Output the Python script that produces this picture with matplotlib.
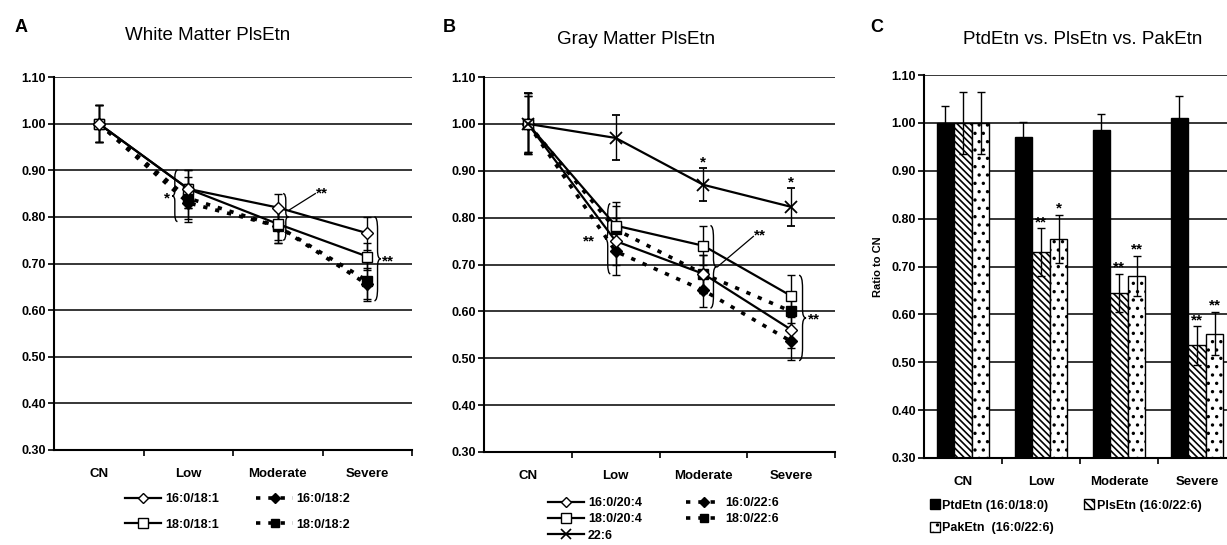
import numpy as np
import matplotlib
matplotlib.use("Agg")
import matplotlib.pyplot as plt
from matplotlib.path import Path
from matplotlib.patches import PathPatch, Patch
from matplotlib.lines import Line2D

plt.rcParams['font.family'] = ['Liberation Sans', 'DejaVu Sans']
plt.rcParams['hatch.linewidth'] = 1.2

categories = ["CN", "Low", "Moderate", "Severe"]
yticks = [0.30, 0.40, 0.50, 0.60, 0.70, 0.80, 0.90, 1.00, 1.10]

# Panel A: White Matter PlsEtn
a_labels = ["16:0/18:1", "18:0/18:1", "16:0/18:2", "18:0/18:2"]
a_16_181 = [1.00, 0.86, 0.82, 0.765]
a_18_181 = [1.00, 0.86, 0.785, 0.715]
a_16_182 = [1.00, 0.83, 0.78, 0.655]
a_18_182 = [1.00, 0.84, 0.78, 0.663]
a_16_181_err = [0.04, 0.04, 0.03, 0.035]
a_18_181_err = [0.04, 0.04, 0.035, 0.03]
a_16_182_err = [0.04, 0.04, 0.035, 0.035]
a_18_182_err = [0.04, 0.045, 0.035, 0.04]

# Panel B: Gray Matter PlsEtn
b_labels = ["16:0/20:4", "18:0/20:4", "22:6", "16:0/22:6", "18:0/22:6"]
b_16_204 = [1.00, 0.75, 0.68, 0.561]
b_18_204 = [1.00, 0.783, 0.74, 0.633]
b_226 = [1.00, 0.97, 0.87, 0.823]
b_16_226 = [1.00, 0.728, 0.645, 0.536]
b_18_226 = [1.00, 0.775, 0.68, 0.60]
b_16_204_err = [0.06, 0.05, 0.04, 0.04]
b_18_204_err = [0.065, 0.05, 0.042, 0.045]
b_226_err = [0.065, 0.048, 0.035, 0.04]
b_16_226_err = [0.065, 0.05, 0.035, 0.04]
b_18_226_err = [0.06, 0.05, 0.04, 0.04]

# Panel C: PtdEtn vs PlsEtn vs PakEtn
c_labels = ["PtdEtn (16:0/18:0)", "PlsEtn (16:0/22:6)", "PakEtn  (16:0/22:6)"]
c_ptd = [1.00, 0.97, 0.985, 1.01]
c_pls = [1.00, 0.73, 0.645, 0.535]
c_pak = [1.00, 0.758, 0.68, 0.56]
c_ptd_err = [0.035, 0.032, 0.033, 0.047]
c_pls_err = [0.065, 0.05, 0.04, 0.04]
c_pak_err = [0.065, 0.05, 0.042, 0.045]
c_pls_sig = ["", "**", "**", "**"]
c_pak_sig = ["", "*", "**", "**"]

W, H = 1227, 545
fig = plt.figure(figsize=(W / 100, H / 100), dpi=100)

TICKFS = 9
STARFS = 11


def px_axes(l, t, r, b):
    return fig.add_axes([l / W, 1 - b / H, (r - l) / W, (b - t) / H])


def style_axes(ax):
    ax.set_xlim(-0.5, 3.5)
    ax.set_ylim(0.30, 1.10)
    ax.set_yticks(yticks)
    ax.set_yticklabels([f"{v:.2f}" for v in yticks], fontweight='bold', fontsize=TICKFS)
    for v in yticks[1:]:
        ax.axhline(v, color='black', lw=1.1, zorder=0)
    ax.set_xticks(range(4))
    ax.set_xticklabels(categories, fontweight='bold', fontsize=9.5)
    ax.tick_params(axis='x', which='major', length=0, pad=13)
    ax.set_xticks([0.5, 1.5, 2.5, 3.5], minor=True)
    ax.tick_params(axis='x', which='minor', length=4, width=1.2, direction='out')
    ax.tick_params(axis='y', length=4, width=1.2, direction='out', pad=2)
    for s in ['top', 'right']:
        ax.spines[s].set_visible(False)
    for s in ['left', 'bottom']:
        ax.spines[s].set_linewidth(1.5)


def brace(ax, x, y0, y1, w, right=True):
    s = 1 if right else -1
    h = y1 - y0
    ym = (y0 + y1) / 2
    xm = x + s * w / 2
    verts = [(x, y1), (xm, y1), (xm, y1 - 0.15 * h),
             (xm, ym + 0.1 * h),
             (xm, ym), (x + s * w, ym),
             (xm, ym), (xm, ym - 0.1 * h),
             (xm, y0 + 0.15 * h),
             (xm, y0), (x, y0)]
    codes = [Path.MOVETO, Path.CURVE3, Path.CURVE3, Path.LINETO,
             Path.CURVE3, Path.CURVE3, Path.CURVE3, Path.CURVE3,
             Path.LINETO, Path.CURVE3, Path.CURVE3]
    ax.add_patch(PathPatch(Path(verts, codes), fill=False, lw=1.0, color='black', zorder=6))


def star(ax, xx, yy, s, ha='center'):
    ax.text(xx, yy, s, ha=ha, va='center', fontsize=STARFS, fontweight='bold')


x = np.arange(4)
solid = dict(color='black', lw=1.6, linestyle='-')
dashed = dict(color='black', lw=2.6, linestyle=(0, (1.2, 2.2)))
ebk = dict(ecolor='black', elinewidth=1.0, capsize=3, capthick=1.0)

# ---------------- Panel A ----------------
axA = px_axes(54, 77, 412, 450)
style_axes(axA)
axA.errorbar(x, a_16_182, yerr=a_16_182_err, marker='D', ms=6, mfc='black', mec='black', zorder=3, **dashed, **ebk)
axA.errorbar(x, a_18_182, yerr=a_18_182_err, marker='s', ms=7, mfc='black', mec='black', zorder=3, **dashed, **ebk)
axA.errorbar(x, a_18_181, yerr=a_18_181_err, marker='s', ms=7.5, mfc='white', mec='black', zorder=4, **solid, **ebk)
axA.errorbar(x, a_16_181, yerr=a_16_181_err, marker='D', ms=6.5, mfc='white', mec='black', zorder=4, **solid, **ebk)
brace(axA, 0.88, 0.79, 0.90, 0.06, right=False)
brace(axA, 2.06, 0.75, 0.85, 0.06, right=True)
brace(axA, 3.08, 0.62, 0.80, 0.07, right=True)
star(axA, 0.76, 0.84, "*")
axA.plot([2.13, 2.42], [0.815, 0.85], color='black', lw=0.9)
star(axA, 2.43, 0.85, "**", ha='left')
star(axA, 3.17, 0.705, "**", ha='left')
fig.text(15 / W, 1 - 27 / H, "A", fontsize=13, fontweight='bold', va='center')
fig.text(208 / W, 1 - 35 / H, "White Matter PlsEtn", fontsize=13.5, ha='center', va='center')

hA = [Line2D([], [], marker='D', ms=5, mfc='white', mec='black', **solid),
      Line2D([], [], marker='s', ms=7, mfc='white', mec='black', **solid),
      Line2D([], [], marker='D', ms=5, mfc='black', mec='black', **dashed),
      Line2D([], [], marker='s', ms=6, mfc='black', mec='black', **dashed)]
fig.legend(hA, [a_labels[0], a_labels[1], a_labels[2], a_labels[3]], ncol=2, frameon=False,
           loc='upper left', bbox_to_anchor=(120 / W, 1 - 488 / H), borderaxespad=0,
           prop=dict(weight='bold', size=9), handlelength=2.9, handletextpad=0.3,
           columnspacing=3.0, labelspacing=1.1)

# ---------------- Panel B ----------------
axB = px_axes(484, 77, 835, 452)
style_axes(axB)
axB.errorbar(x, b_16_226, yerr=b_16_226_err, marker='D', ms=6, mfc='black', mec='black', zorder=3, **dashed, **ebk)
axB.errorbar(x, b_18_226, yerr=b_18_226_err, marker='s', ms=7, mfc='black', mec='black', zorder=3, **dashed, **ebk)
axB.errorbar(x, b_16_204, yerr=b_16_204_err, marker='D', ms=6.5, mfc='white', mec='black', zorder=4, **solid, **ebk)
axB.errorbar(x, b_18_204, yerr=b_18_204_err, marker='s', ms=7.5, mfc='white', mec='black', zorder=4, **solid, **ebk)
axB.errorbar(x, b_226, yerr=b_226_err, marker='x', ms=9, mew=1.3, mec='black', zorder=4, **solid, **ebk)
brace(axB, 0.94, 0.68, 0.83, 0.06, right=False)
brace(axB, 2.08, 0.607, 0.783, 0.07, right=True)
brace(axB, 3.09, 0.495, 0.677, 0.08, right=True)
star(axB, 0.76, 0.75, "**", ha='right')
axB.plot([2.16, 2.57], [0.695, 0.76], color='black', lw=0.9)
star(axB, 2.58, 0.762, "**", ha='left')
star(axB, 3.19, 0.582, "**", ha='left')
star(axB, 2.0, 0.918, "*")
star(axB, 3.0, 0.874, "*")
fig.text(443 / W, 1 - 27 / H, "B", fontsize=13, fontweight='bold', va='center')
fig.text(636 / W, 1 - 40 / H, "Gray Matter PlsEtn", fontsize=13.5, ha='center', va='center')

hB = [Line2D([], [], marker='D', ms=5, mfc='white', mec='black', **solid),
      Line2D([], [], marker='s', ms=7, mfc='white', mec='black', **solid),
      Line2D([], [], marker='x', ms=7, mew=1.2, mec='black', **solid),
      Line2D([], [], marker='D', ms=5, mfc='black', mec='black', **dashed),
      Line2D([], [], marker='s', ms=6, mfc='black', mec='black', **dashed)]
fig.legend(hB, b_labels, ncol=2, frameon=False,
           loc='upper left', bbox_to_anchor=(543 / W, 1 - 492 / H), borderaxespad=0,
           prop=dict(weight='bold', size=9), handlelength=2.9, handletextpad=0.3,
           columnspacing=3.5, labelspacing=0.35)

# ---------------- Panel C ----------------
axC = px_axes(924, 75, 1236, 458)
style_axes(axC)
bw = 0.225
axC.bar(x - bw, c_ptd, bw, color='black', edgecolor='black', lw=1, zorder=2)
axC.bar(x, c_pls, bw, color='white', edgecolor='black', hatch='\\\\\\\\\\', lw=1, zorder=2)
axC.bar(x + bw, c_pak, bw, color='white', edgecolor='black', hatch='..', lw=1, zorder=2)
axC.errorbar(x - bw, c_ptd, yerr=c_ptd_err, fmt='none', zorder=3, **ebk)
axC.errorbar(x, c_pls, yerr=c_pls_err, fmt='none', zorder=3, **ebk)
axC.errorbar(x + bw, c_pak, yerr=c_pak_err, fmt='none', zorder=3, **ebk)
for i in range(4):
    if c_pls_sig[i]:
        star(axC, x[i], c_pls[i] + c_pls_err[i] + 0.013, c_pls_sig[i])
    if c_pak_sig[i]:
        star(axC, x[i] + bw, c_pak[i] + c_pak_err[i] + 0.013, c_pak_sig[i])
axC.set_ylabel("Ratio to CN", fontsize=8, fontweight='bold', labelpad=6)
fig.text(870 / W, 1 - 27 / H, "C", fontsize=13, fontweight='bold', va='center')
fig.text(1083 / W, 1 - 40 / H, "PtdEtn vs. PlsEtn vs. PakEtn", fontsize=13.5, ha='center', va='center')

hC = [Patch(facecolor='black', edgecolor='black'),
      Patch(facecolor='white', edgecolor='black', hatch='..'),
      Patch(facecolor='white', edgecolor='black', hatch='\\\\\\\\')]
fig.legend(hC, [c_labels[0], c_labels[2], c_labels[1]], ncol=2, frameon=False,
           loc='upper left', bbox_to_anchor=(925 / W, 1 - 494 / H), borderaxespad=0,
           prop=dict(weight='bold', size=9), handlelength=0.8, handleheight=0.9,
           handletextpad=0.2, columnspacing=2.4, labelspacing=0.8)

fig.savefig("out.png", dpi=100)
